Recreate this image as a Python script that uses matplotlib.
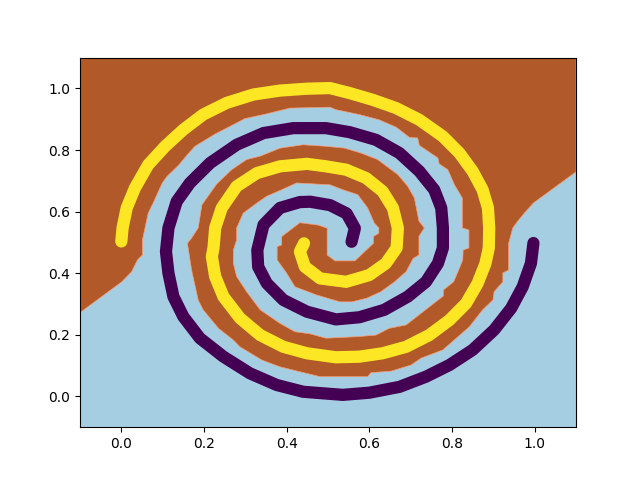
import matplotlib
matplotlib.use('Agg')
import matplotlib.pyplot as plt

# spiral points, outer end first
yellow_x = [0.000, 0.003, 0.013, 0.033, 0.065, 0.106, 0.150, 0.198, 0.255, 0.319, 0.384, 0.449, 0.505,
            0.552, 0.608, 0.665, 0.721, 0.778, 0.818, 0.850, 0.874, 0.887, 0.890, 0.889, 0.881, 0.862,
            0.834, 0.794, 0.745, 0.689, 0.632, 0.576, 0.519, 0.449, 0.392, 0.336, 0.287, 0.247, 0.227,
            0.219, 0.223, 0.227, 0.243, 0.279, 0.328, 0.384, 0.449, 0.495, 0.544, 0.592, 0.632, 0.657,
            0.669, 0.666, 0.640, 0.600, 0.544, 0.481, 0.444, 0.432, 0.442]
yellow_y = [0.503, 0.547, 0.612, 0.677, 0.752, 0.812, 0.866, 0.915, 0.953, 0.980, 0.993, 0.999, 1.001,
            0.985, 0.963, 0.936, 0.898, 0.844, 0.790, 0.731, 0.671, 0.612, 0.547, 0.482, 0.432, 0.367,
            0.302, 0.248, 0.199, 0.161, 0.140, 0.129, 0.127, 0.140, 0.161, 0.199, 0.254, 0.324, 0.389,
            0.454, 0.482, 0.547, 0.612, 0.682, 0.725, 0.747, 0.755, 0.747, 0.736, 0.709, 0.666, 0.612,
            0.547, 0.482, 0.432, 0.394, 0.372, 0.383, 0.421, 0.470, 0.497]

purple_x = [0.997, 0.991, 0.971, 0.943, 0.902, 0.850, 0.794, 0.737, 0.673, 0.600, 0.536, 0.440, 0.376,
            0.311, 0.247, 0.190, 0.150, 0.126, 0.114, 0.108, 0.114, 0.134, 0.166, 0.215, 0.279, 0.344,
            0.416, 0.495, 0.552, 0.616, 0.673, 0.721, 0.757, 0.774, 0.778, 0.778, 0.766, 0.737, 0.693,
            0.636, 0.576, 0.519, 0.449, 0.392, 0.352, 0.331, 0.329, 0.344, 0.384, 0.432, 0.457, 0.505,
            0.545, 0.565, 0.557]
purple_y = [0.498, 0.432, 0.356, 0.286, 0.216, 0.151, 0.102, 0.064, 0.031, 0.012, 0.005, 0.015, 0.037,
            0.075, 0.129, 0.189, 0.259, 0.324, 0.400, 0.470, 0.547, 0.633, 0.693, 0.758, 0.817, 0.855,
            0.871, 0.871, 0.858, 0.833, 0.790, 0.731, 0.671, 0.612, 0.547, 0.482, 0.432, 0.372, 0.324,
            0.281, 0.257, 0.250, 0.275, 0.313, 0.367, 0.421, 0.475, 0.557, 0.612, 0.631, 0.632, 0.621,
            0.594, 0.546, 0.502]

# outline of the brown class region
region_x = [-0.1, 0.001, 0.025, 0.039, 0.051, 0.051, 0.065, 0.077, 0.099, 0.111, 0.138, 0.160, 0.178,
            0.227, 0.259, 0.299, 0.344, 0.408, 0.505, 0.519, 0.576, 0.624, 0.665, 0.697, 0.717, 0.721,
            0.766, 0.769, 0.790, 0.806, 0.825, 0.825, 0.841, 0.841, 0.827, 0.826, 0.816, 0.804, 0.779,
            0.779, 0.689, 0.648, 0.616, 0.572, 0.495, 0.457, 0.420, 0.384, 0.336, 0.303, 0.279, 0.271,
            0.271, 0.279, 0.279, 0.295, 0.328, 0.352, 0.388, 0.424, 0.505, 0.536, 0.572, 0.596, 0.612,
            0.623, 0.623, 0.610, 0.610, 0.565, 0.517, 0.498, 0.498, 0.477, 0.432, 0.388, 0.388, 0.377,
            0.377, 0.400, 0.420, 0.473, 0.529, 0.558, 0.594, 0.628, 0.661, 0.689, 0.706, 0.720, 0.720,
            0.733, 0.720, 0.709, 0.693, 0.669, 0.620, 0.580, 0.540, 0.495, 0.440, 0.384, 0.336, 0.303,
            0.267, 0.231, 0.195, 0.186, 0.170, 0.160, 0.170, 0.186, 0.198, 0.235, 0.271, 0.287, 0.340,
            0.384, 0.432, 0.481, 0.596, 0.604, 0.653, 0.701, 0.725, 0.778, 0.842, 0.874, 0.899, 0.902,
            0.923, 0.923, 0.937, 0.937, 0.947, 0.959, 0.975, 0.997, 1.1, 1.1, -0.1]
region_y = [0.272, 0.372, 0.405, 0.443, 0.459, 0.508, 0.595, 0.628, 0.693, 0.715, 0.750, 0.785, 0.812,
            0.852, 0.874, 0.902, 0.915, 0.936, 0.939, 0.931, 0.915, 0.898, 0.874, 0.841, 0.839, 0.815,
            0.774, 0.755, 0.736, 0.687, 0.644, 0.547, 0.540, 0.482, 0.475, 0.443, 0.410, 0.372, 0.345,
            0.326, 0.232, 0.221, 0.199, 0.194, 0.189, 0.203, 0.210, 0.237, 0.281, 0.340, 0.389, 0.432,
            0.475, 0.508, 0.547, 0.595, 0.628, 0.650, 0.671, 0.693, 0.687, 0.671, 0.655, 0.612, 0.563,
            0.547, 0.530, 0.519, 0.497, 0.440, 0.440, 0.459, 0.546, 0.556, 0.564, 0.519, 0.492, 0.486,
            0.443, 0.400, 0.356, 0.329, 0.307, 0.307, 0.319, 0.340, 0.372, 0.405, 0.448, 0.459, 0.520,
            0.547, 0.569, 0.644, 0.682, 0.720, 0.769, 0.790, 0.806, 0.812, 0.817, 0.806, 0.780, 0.769,
            0.736, 0.690, 0.622, 0.547, 0.514, 0.497, 0.410, 0.313, 0.281, 0.221, 0.183, 0.161, 0.118,
            0.096, 0.080, 0.064, 0.064, 0.077, 0.082, 0.102, 0.124, 0.151, 0.226, 0.281, 0.313, 0.340,
            0.372, 0.401, 0.410, 0.497, 0.547, 0.569, 0.595, 0.628, 0.729, 1.1, 1.1]

fig, ax = plt.subplots()
ax.set_facecolor('#a6cee3')
ax.fill(region_x, region_y, facecolor='#b15928', edgecolor='#fb9a70', linewidth=0.5)

ax.plot(purple_x, purple_y, color='#440154', linewidth=8.8,
        solid_capstyle='round', solid_joinstyle='round')
ax.plot(yellow_x, yellow_y, color='#fde725', linewidth=8.8,
        solid_capstyle='round', solid_joinstyle='round')

ax.set_xlim(-0.1, 1.1)
ax.set_ylim(-0.1, 1.1)
ax.set_xticks([0.0, 0.2, 0.4, 0.6, 0.8, 1.0])
ax.set_yticks([0.0, 0.2, 0.4, 0.6, 0.8, 1.0])

plt.savefig('out.png', dpi=100)
